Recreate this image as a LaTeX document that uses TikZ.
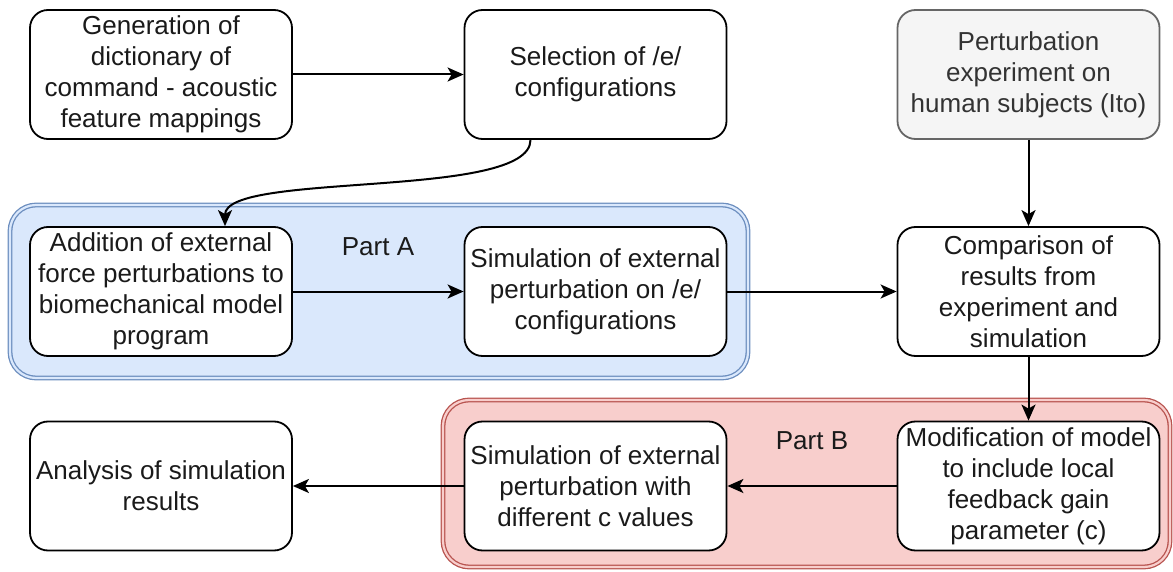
\documentclass[tikz,border=0pt]{standalone}
\usepackage{fontspec}
\setmainfont{Liberation Sans}
\usetikzlibrary{arrows.meta}
\definecolor{blueF}{HTML}{DAE8FC}
\definecolor{blueS}{HTML}{6C8EBF}
\definecolor{redF}{HTML}{F8CECC}
\definecolor{redS}{HTML}{B85450}
\definecolor{grayF}{HTML}{F5F5F5}
\definecolor{grayS}{HTML}{666666}
\definecolor{txt}{HTML}{1A1A1A}
\tikzset{
  box/.style={draw=black, fill=white, line width=1.8pt, rounded corners=18pt,
    minimum width=262pt, minimum height=129pt, inner sep=0pt, align=center,
    text=txt, font=\fontsize{26}{31}\selectfont},
  greybox/.style={box, fill=grayF, draw=grayS, text=black!80},
  group/.style={line width=1.3pt, double distance=2.2pt, rounded corners=26pt},
  grouplabel/.style={text=txt, font=\fontsize{26}{31}\selectfont, inner sep=0pt},
  arr/.style={line width=2pt, -{Stealth[length=16pt, width=14pt, inset=4pt]}}
}
\begin{document}
\begin{tikzpicture}[x=1pt, y=-1pt]
\useasboundingbox (0,0) rectangle (1173,572);
% groups
\draw[group, draw=blueS, double=blueF, fill=blueF] (10,205) rectangle (748,378);
\draw[group, draw=redS, double=redF, fill=redF] (443,400) rectangle (1170,567);
\node[grouplabel] (pa) at (378,247) {Part A};
\node[grouplabel] (pb) at (812,441) {Part B};
% boxes
\node[box] (b1) at (161,74.5) {Generation of\\dictionary of\\command - acoustic\\feature mappings};
\node[box] (b2) at (595.5,74.5) {Selection of /e/\\configurations};
\node[greybox] (b3) at (1028.5,74.5) {Perturbation\\experiment on\\human subjects (Ito)};
\node[box] (b4) at (161,291.5) {Addition of external\\force perturbations to\\biomechanical model\\program};
\node[box] (b5) at (595.5,291.5) {Simulation of external\\perturbation on /e/\\configurations};
\node[box] (b6) at (1028.5,291.5) {Comparison of\\results from\\experiment and\\simulation};
\node[box] (b7) at (595.5,486) {Simulation of external\\perturbation with\\different c values};
\node[box] (b8) at (1028.5,486) {Modification of model\\to include local\\feedback gain\\parameter (c)};
\node[box] (b9) at (161,486) {Analysis of simulation\\results};
% connectors
\draw[arr] (b1.east) -- (b2.west);
\draw[arr] ([xshift=-65pt]b2.south) .. controls ([xshift=-65pt,yshift=-60pt]b2.south) and ([xshift=64pt,yshift=55pt]b4.north) .. ([xshift=64pt]b4.north);
\draw[arr] (b4.east) -- (b5.west);
\draw[arr] (b5.east) -- (b6.west);
\draw[arr] (b3.south) -- (b6.north);
\draw[arr] (b6.south) -- (b8.north);
\draw[arr] (b8.west) -- (b7.east);
\draw[arr] (b7.west) -- (b9.east);
\end{tikzpicture}
\end{document}
